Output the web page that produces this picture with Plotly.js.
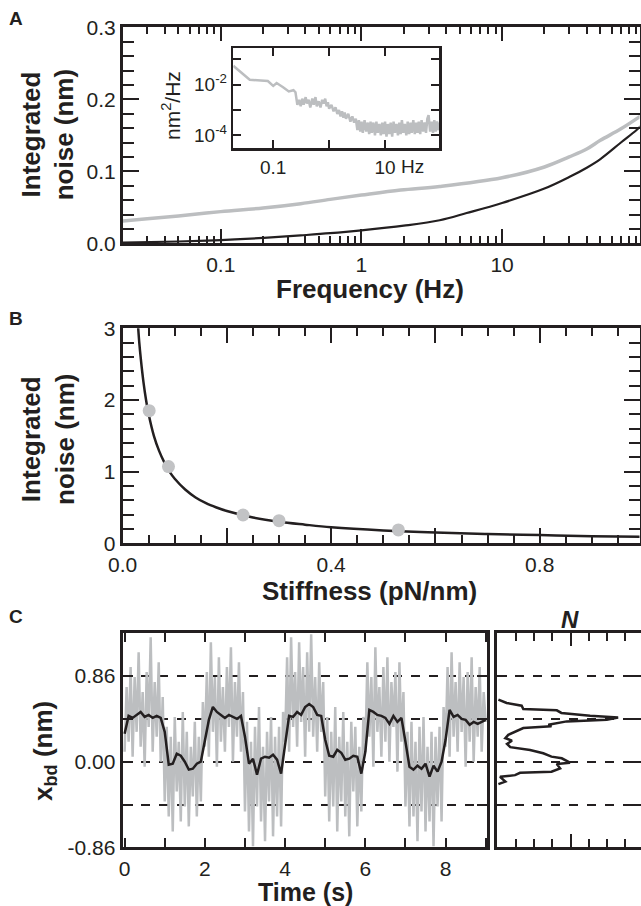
<!DOCTYPE html>
<html>
<head>
<meta charset="utf-8">
<script src="https://cdn.plot.ly/plotly-3.0.1.min.js"></script>
<style>
html,body{margin:0;padding:0;background:#fff;}
#chart{width:641px;height:906px;}
</style>
</head>
<body>
<div id="chart"></div>
<script>
// ---------- Panel A: integrated noise vs frequency ----------
const freqGrey = [0.02, 0.03, 0.05, 0.1, 0.2, 0.37, 0.6, 1, 1.9, 3.6, 10, 20, 30, 40, 50, 70, 97];
const noiseGrey = [0.031, 0.034, 0.038, 0.044, 0.049, 0.055, 0.061, 0.067, 0.074, 0.079, 0.091, 0.106, 0.120, 0.131, 0.143, 0.159, 0.177];
const freqBlack = [0.02, 0.05, 0.1, 0.2, 0.37, 0.6, 1, 2, 3.6, 5.6, 10, 20, 30, 40, 50, 70, 90, 97];
const noiseBlack = [0.001, 0.0025, 0.0045, 0.0075, 0.011, 0.014, 0.018, 0.0245, 0.032, 0.042, 0.056, 0.076, 0.092, 0.105, 0.117, 0.140, 0.157, 0.163];
const freqTickVals = [0.1, 1, 10];
const freqTickText = ['0.1', '1', '10'];
const freqMinorVals = [0.03,0.04,0.05,0.06,0.07,0.08,0.09,0.2,0.3,0.4,0.5,0.6,0.7,0.8,0.9,2,3,4,5,6,7,8,9,20,30,40,50,60,70,80,90];

// ---------- Panel A inset: power spectral density ----------
const psdFreq = [0.0193, 0.025, 0.038, 0.06, 0.08, 0.1, 0.115, 0.15, 0.19, 0.23,
  0.25, 0.27, 0.29, 0.31, 0.33, 0.35, 0.38, 0.40, 0.43, 0.46,
  0.5, 0.53, 0.57, 0.6, 0.65, 0.7, 0.75, 0.8, 0.85, 0.9,
  0.95, 1.0, 1.1, 1.2, 1.3, 1.4, 1.5, 1.6, 1.7, 1.8,
  1.9, 2.0, 2.2, 2.4, 2.6, 2.8,
  3.0, 3.2, 3.4, 3.6, 3.8, 4.0, 4.3, 4.6, 4.9, 5.2,
  5.5, 5.8, 6.2, 6.6, 7.0, 7.4, 7.9, 8.4, 8.9, 9.4,
  10, 10.6, 11.2, 11.9, 12.6, 13.4, 14.2, 15, 16, 17,
  18, 19, 20, 21.2, 22.5, 24, 25.4, 27, 28.6, 30,
  32, 34, 36, 38, 40, 42.5, 45, 48, 51, 54,
  57, 60, 64, 68, 72, 76, 80, 85, 90, 93];
const psdValue = [0.055, 0.035, 0.0155, 0.0145, 0.0138, 0.0089, 0.0115, 0.0079, 0.0054, 0.006,
  0.005, 0.0016, 0.0025, 0.0014, 0.0028, 0.0016, 0.0032, 0.0018, 0.0025, 0.00126,
  0.0028, 0.0016, 0.0032, 0.0014, 0.0022, 0.00126, 0.0025, 0.0018, 0.0028, 0.0014,
  0.002, 0.00112, 0.0016, 0.00089, 0.00126, 0.0007, 0.001, 0.00056, 0.00089, 0.0005,
  0.00079, 0.00045, 0.0007, 0.00035, 0.00056, 0.00032,
  4.5e-4, 1.6e-4, 4.0e-4, 1.4e-4, 3.5e-4, 1.26e-4, 4.0e-4, 1.4e-4, 3.2e-4, 1.12e-4,
  3.5e-4, 1.26e-4, 3.2e-4, 1.0e-4, 3.5e-4, 1.26e-4, 2.8e-4, 1.0e-4, 3.2e-4, 1.12e-4,
  3.5e-4, 0.89e-4, 2.8e-4, 1.12e-4, 3.2e-4, 0.89e-4, 3.5e-4, 1.26e-4, 2.8e-4, 1.0e-4,
  3.2e-4, 1.12e-4, 4.0e-4, 1.26e-4, 2.8e-4, 1.0e-4, 3.5e-4, 1.12e-4, 3.2e-4, 1.26e-4,
  4.0e-4, 1.12e-4, 3.2e-4, 1.26e-4, 3.5e-4, 1.12e-4, 4.0e-4, 1.4e-4, 3.2e-4, 1.26e-4,
  4.5e-4, 6.3e-4, 1.4e-4, 3.5e-4, 1.26e-4, 4.0e-4, 1.4e-4, 3.5e-4, 1.6e-4, 3.2e-4];
const psdTickVals = [0.01, 0.0001];
const psdTickText = ['10<sup>-2</sup>', '10<sup>-4</sup>'];
const psdMinorVals = [0.1, 0.001];
const insetFreqTickVals = [0.1, 10];
const insetFreqTickText = ['0.1', '10'];
const insetFreqMinorVals = [1];

// ---------- Panel B: integrated noise vs stiffness ----------
const stiffPoints = [0.051, 0.088, 0.231, 0.300, 0.529];
const noisePoints = [1.85, 1.07, 0.395, 0.316, 0.186];
const stiffFit = [0.029, 0.032, 0.035, 0.04, 0.045, 0.05, 0.06, 0.07, 0.08, 0.09, 0.1, 0.12, 0.14, 0.16, 0.18, 0.2, 0.25, 0.3, 0.35, 0.4, 0.5, 0.6, 0.7, 0.8, 0.9, 1.0];
const noiseFit = [3.1, 2.8, 2.57, 2.25, 2.0, 1.8, 1.5, 1.29, 1.13, 1.0, 0.9, 0.75, 0.64, 0.56, 0.5, 0.45, 0.36, 0.3, 0.26, 0.225, 0.18, 0.15, 0.13, 0.115, 0.1, 0.09];
const stiffTickVals = [0, 0.4, 0.8];
const stiffTickText = ['0.0', '0.4', '0.8'];
const stiffMidTicks = [0.2, 0.6];

// ---------- Panel C: bundle displacement time series ----------
const timeStepRaw = 0.05;   // s, raw trace sample spacing
const xbdRaw = [
  0.10, 0.75, 0.20, 0.95, 0.05, 0.85, 0.30, 1.10, 0.15, 0.70, -0.05, 0.90, 0.35, 1.25, 0.10, 0.80, 0.25, 1.00, 0.00, 0.65,
  -0.40, 0.35, -0.55, 0.25, -0.70, 0.45, -0.30, 0.20, -0.60, 0.50, -0.45, 0.30, -0.65, 0.15, -0.35, 0.40, -0.55, 0.25, -0.40, 0.60,
  0.15, 0.90, 0.05, 1.20, 0.30, 0.85, -0.05, 1.05, 0.20, 0.75, 0.10, 0.95, 0.35, 1.15, 0.00, 0.80, 0.25, 1.00, 0.10, 0.70,
  -0.50, 0.40, -0.70, 0.20, -0.85, 0.35, -0.45, 0.55, -0.60, 0.15, -0.80, 0.30, -0.40, 0.45, -0.75, 0.25, -0.55, 0.35, -0.65, 0.50,
  0.20, 1.05, 0.10, 1.25, 0.35, 0.90, 0.15, 1.20, 0.40, 0.95, 0.05, 1.10, 0.30, 1.28, 0.25, 0.85, 0.10, 1.00, 0.30, 0.80,
  -0.35, 0.45, -0.60, 0.30, -0.45, 0.55, -0.70, 0.25, -0.40, 0.50, -0.55, 0.20, -0.75, 0.40, -0.30, 0.35, -0.65, 0.15, -0.50, 0.45,
  0.10, 1.00, 0.25, 0.85, -0.05, 1.15, 0.30, 0.75, 0.05, 0.95, 0.20, 1.05, 0.00, 0.80, 0.35, 0.90, -0.10, 1.00, 0.20, 0.70,
  -0.45, 0.30, -0.65, 0.40, -0.55, 0.20, -0.80, 0.35, -0.50, 0.45, -0.70, 0.15, -0.60, 0.30, -0.85, 0.25, -0.45, 0.35, -0.60, 0.55,
  0.15, 0.95, 0.05, 1.10, 0.25, 0.80, 0.10, 1.00, 0.30, 0.85, -0.05, 0.90, 0.20, 1.05, 0.00, 0.75, 0.25, 0.95, 0.10, 0.70,
  0.40];
const timeStepFilt = 0.1;   // s, filtered trace sample spacing
const xbdFilt = [
  0.28, 0.46, 0.44, 0.47, 0.50, 0.45, 0.47, 0.44, 0.46, 0.44,
  0.30, -0.03, -0.02, 0.08, 0.06, 0.00, -0.08, -0.07, -0.02, 0.00,
  0.22, 0.42, 0.55, 0.50, 0.47, 0.44, 0.47, 0.45, 0.43, 0.46,
  0.25, -0.02, 0.03, -0.13, 0.03, 0.05, 0.04, 0.07, 0.02, -0.12,
  0.20, 0.46, 0.45, 0.50, 0.47, 0.55, 0.58, 0.55, 0.47, 0.46,
  0.22, 0.06, 0.05, 0.12, 0.09, 0.02, 0.03, 0.06, 0.05, -0.12,
  0.10, 0.52, 0.50, 0.47, 0.46, 0.44, 0.38, 0.46, 0.40, 0.44,
  0.20, -0.05, -0.08, -0.04, -0.07, -0.02, -0.15, -0.04, -0.10, 0.00,
  0.22, 0.52, 0.45, 0.47, 0.43, 0.42, 0.37, 0.40, 0.38, 0.40,
  0.42];
const timeTickVals = [0, 2, 4, 6, 8];
const levelTickVals = [-0.86, 0, 0.86];
const levelTickText = ['-0.86', '0.00', '0.86'];
const levelMidVals = [-0.43, 0.43];

// ---------- Panel C histogram ----------
const histCount = [0.06, 0.51, 1.33, 1.42, 3.25, 3.5, 5.07, 6.6, 5.98, 3.79, 2.79, 2.96, 1.42, 0.6, 0.44, 0.8, 0.53, 0.71, 1.79, 2.51, 2.96, 3.52, 3.97, 3.25, 3.43, 2.96, 1.24, 0.97, 0.15, 0.44, 0.06];
const histPos = [0.624, 0.59, 0.563, 0.53, 0.516, 0.49, 0.462, 0.445, 0.422, 0.405, 0.371, 0.355, 0.338, 0.27, 0.237, 0.212, 0.179, 0.146, 0.118, 0.085, 0.051, 0.034, -0.01, -0.023, -0.067, -0.101, -0.111, -0.135, -0.152, -0.2, -0.225];
const countTickVals = [0, 4, 8];

// ---------- styling ----------
const FONT = 'Liberation Sans, Arial, Helvetica, sans-serif';
const INK = '#231f20';
const GREY = '#bcbec0';
const W = 641, H = 906;
const px = v => v / W;
const py = v => 1 - v / H;

function ax(extra) {
  return Object.assign({
    showline: true, linecolor: INK, linewidth: 3, mirror: 'ticks',
    ticks: 'inside', tickcolor: INK, tickwidth: 2, showgrid: false, zeroline: false,
    tickfont: {family: FONT, size: 21, color: INK}, fixedrange: true
  }, extra);
}
function minor(len, extra) {
  return Object.assign({ticks: 'inside', ticklen: len, tickwidth: 2, tickcolor: INK, showgrid: false}, extra || {});
}
const dashGrid = {showgrid: true, gridcolor: INK, gridwidth: 2, griddash: 'dash'};

const traces = [
  {x: freqGrey, y: noiseGrey, xaxis: 'x', yaxis: 'y', mode: 'lines', line: {color: GREY, width: 3.5, shape: 'spline'}},
  {x: freqBlack, y: noiseBlack, xaxis: 'x', yaxis: 'y', mode: 'lines', line: {color: INK, width: 2.2, shape: 'spline'}},
  {x: psdFreq, y: psdValue, xaxis: 'x2', yaxis: 'y2', mode: 'lines', line: {color: GREY, width: 2.5}},
  {x: stiffFit, y: noiseFit, xaxis: 'x3', yaxis: 'y3', mode: 'lines', line: {color: INK, width: 2.5, shape: 'spline'}},
  {x: stiffPoints, y: noisePoints, xaxis: 'x3', yaxis: 'y3', mode: 'markers', marker: {color: '#c2c3c5', size: 13}},
  {x: [], y: [], xaxis: 'x6', yaxis: 'y3', mode: 'lines', hoverinfo: 'skip'},
  {x0: 0, dx: timeStepRaw, y: xbdRaw, xaxis: 'x4', yaxis: 'y4', mode: 'lines', line: {color: GREY, width: 2.5}},
  {x0: 0, dx: timeStepFilt, y: xbdFilt, xaxis: 'x4', yaxis: 'y4', mode: 'lines', line: {color: INK, width: 2.5}},
  {x: histCount, y: histPos, xaxis: 'x5', yaxis: 'y5', mode: 'lines', line: {color: INK, width: 2.5}}
];

const bold = (size) => ({family: FONT, size: size, color: INK, weight: 'bold'});
function ann(text, x, y, font, extra) {
  return Object.assign({text: text, x: x, y: y, xref: 'paper', yref: 'paper', showarrow: false,
    xanchor: 'center', yanchor: 'middle', font: font}, extra || {});
}

const layout = {
  width: W, height: H, margin: {l: 0, r: 0, t: 0, b: 0},
  paper_bgcolor: '#fff', plot_bgcolor: 'rgba(0,0,0,0)', showlegend: false,
  // Panel A
  xaxis: ax({type: 'log', domain: [px(123), px(639.5)], range: [-1.695, 1.977], anchor: 'y',
    tickvals: freqTickVals, ticktext: freqTickText, ticklen: 14,
    minor: minor(7, {tickvals: freqMinorVals})}),
  yaxis: ax({domain: [py(243.3), py(27.3)], range: [0, 0.3], anchor: 'x',
    dtick: 0.1, tickformat: '.1f', ticklen: 16,
    minor: minor(11, {dtick: 0.02})}),
  // Inset
  xaxis2: ax({type: 'log', domain: [px(233.3), px(439.3)], range: [-1.714, 1.97], anchor: 'y2', linewidth: 2.5,
    tickvals: insetFreqTickVals, ticktext: insetFreqTickText, ticklen: 8, tickfont: {family: FONT, size: 19, color: INK},
    minor: minor(8, {tickvals: insetFreqMinorVals})}),
  yaxis2: ax({type: 'log', domain: [py(148.3), py(48.3)], range: [-4.51, -0.57], anchor: 'x2', linewidth: 2.5,
    tickvals: psdTickVals, ticktext: psdTickText, ticklen: 8,
    tickfont: {family: FONT, size: 19, color: INK}, minor: minor(8, {tickvals: psdMinorVals})}),
  // Panel B
  xaxis3: ax({domain: [px(122.6), px(639.5)], range: [0, 0.9914], anchor: 'y3',
    tickvals: stiffTickVals, ticktext: stiffTickText, ticklen: 15,
    minor: minor(8, {dtick: 0.05})}),
  xaxis6: ax({overlaying: 'x3', anchor: 'y3', range: [0, 0.9914], side: 'bottom',
    tickvals: stiffMidTicks, showticklabels: false, ticklen: 15}),
  yaxis3: ax({domain: [py(543.3), py(328.3)], range: [0, 3], anchor: 'x3',
    dtick: 1, ticklen: 16, minor: minor(11, {dtick: 0.2})}),
  // Panel C
  xaxis4: ax({domain: [px(122.6), px(487.3)], range: [-0.05, 9.04], anchor: 'y4',
    tickvals: timeTickVals, ticklen: 9, minor: minor(9, {dtick: 1})}),
  yaxis4: ax(Object.assign({domain: [py(847.3), py(633.3)], range: [-0.86, 1.29], anchor: 'x4',
    tickvals: levelTickVals, ticktext: levelTickText, ticklen: 10,
    minor: minor(10, Object.assign({tickvals: levelMidVals}, dashGrid))}, dashGrid)),
  // Histogram
  xaxis5: ax({domain: [px(497.3), 1], range: [0, 7.85], anchor: 'y5',
    tickvals: countTickVals, showticklabels: false, ticklen: 13, minor: minor(8, {dtick: 1})}),
  yaxis5: ax(Object.assign({domain: [py(847.3), py(633.3)], range: [-0.86, 1.29], anchor: 'x5',
    tickvals: levelTickVals, showticklabels: false, ticklen: 10,
    minor: minor(10, Object.assign({tickvals: levelMidVals}, dashGrid))}, dashGrid)),
  annotations: [
    ann('A', px(16), py(19), bold(19)),
    ann('B', px(16), py(318.5), bold(19)),
    ann('C', px(16), py(616), bold(19)),
    ann('Integrated<br>noise (nm)', px(48), py(135.3), bold(26), {textangle: -90}),
    ann('Integrated<br>noise (nm)', px(48), py(440), bold(26), {textangle: -90}),
    ann('Frequency (Hz)', px(370), py(289), bold(26)),
    ann('Stiffness (pN/nm)', px(370), py(591), bold(26)),
    ann('Time (s)', px(305), py(892), bold(25)),
    ann('x<sub>bd</sub> (nm)', px(44), py(751), bold(26), {textangle: -90}),
    ann('N', px(570), py(619), {family: FONT, size: 24, color: INK, weight: 'bold', style: 'italic'}),
    ann('nm<sup>2</sup>/Hz', px(171), py(106), {family: FONT, size: 21, color: INK}, {textangle: -90}),
    ann('Hz', px(399), py(166.7), {family: FONT, size: 19, color: INK}, {xanchor: 'left'})
  ]
};

Plotly.newPlot('chart', traces, layout, {staticPlot: true, displayModeBar: false});
</script>
</body>
</html>
